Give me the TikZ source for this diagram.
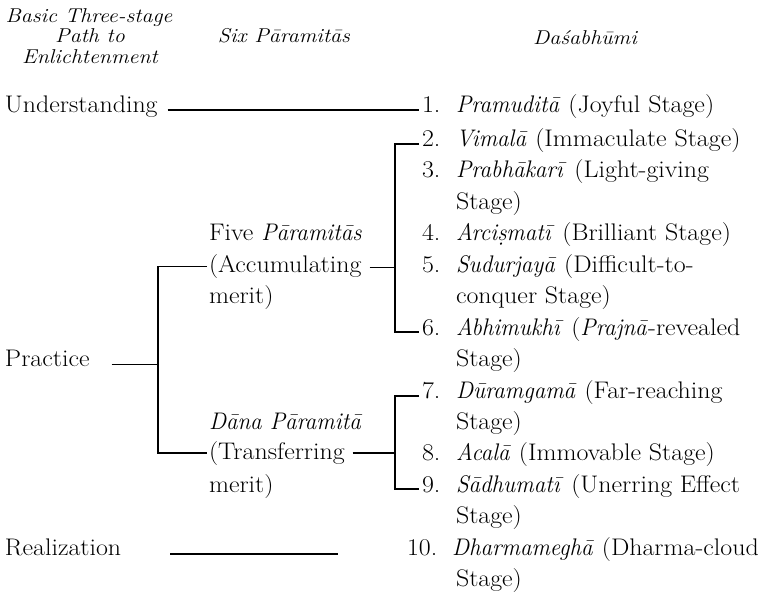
\documentclass[tikz,border=0pt]{standalone}
\usepackage{fontspec}
\setmainfont{Latin Modern Roman}[UprightFeatures={FakeStretch=1.08},ItalicFeatures={FakeStretch=0.96}]
\newfontfamily\hdfont{Latin Modern Roman}[ItalicFeatures={FakeStretch=1.1}]
\usetikzlibrary{calc}
\begin{document}
\begin{tikzpicture}[x=1pt,y=-1pt,
  every node/.style={inner sep=0pt, outer sep=0pt, anchor=base west, font=\fontsize{24}{29}\selectfont},
  hd/.style={anchor=base, font=\hdfont\itshape\fontsize{20}{20}\selectfont},
  conn/.style={line width=1.4pt}]
\useasboundingbox (0,0) rectangle (767,599);
% headers
\node[hd] (h1) at (89,22.5) {Basic Three-stage};
\node[hd] (h2) at (90,42.7) {Path to};
\node[hd] (h3) at (90,63.3) {Enlichtenment};
\node[hd] (h4) at (284,42.7) {Six Pāramitās};
\node[hd] (h5) at (585,45) {Daśabhūmi};
% left column
\node (U) at (5,112.5) {Understanding};
\node (P) at (5,366.6) {Practice};
\node (R) at (5,555.3) {Realization};
% middle column
\node (five) at (209,240.8) {Five \textit{Pāramitās}};
\node (acc) at (209,272.3) {(Accumulating};
\node (accm) at (209,303.7) {merit)};
\node (dana) at (209,429.5) {\textit{Dāna Pāramitā}};
\node (tr) at (209,459) {(Transferring};
\node (trm) at (209,492.4) {merit)};
% right column
\node (n1) at (422,112.5) {1.};
\node (t1) at (456,112.5) {\textit{Pramuditā} (Joyful Stage)};
\node (n2) at (422,146.5) {2.};
\node (t2) at (456,146.5) {\textit{Vimalā} (Immaculate Stage)};
\node (n3) at (422,177.9) {3.};
\node (t3) at (456,177.9) {\textit{Prabhākarī} (Light-giving};
\node (t3b) at (456,209.4) {Stage)};
\node (n4) at (422,240.8) {4.};
\node (t4) at (456,240.8) {\textit{Arciṣmatī} (Brilliant Stage)};
\node (n5) at (422,272.3) {5.};
\node (t5) at (456,272.3) {\textit{Sudurjayā} (Difficult-to-};
\node (t5b) at (456,303.7) {conquer Stage)};
\node (n6) at (422,335.1) {6.};
\node (t6) at (456,335.1) {\textit{Abhimukhī} (\textit{Prajnā}-revealed};
\node (t6b) at (456,366.6) {Stage)};
\node (n7) at (422,398.0) {7.};
\node (t7) at (456,398.0) {\textit{Dūramgamā} (Far-reaching};
\node (t7b) at (456,429.5) {Stage)};
\node (n8) at (422,460.9) {8.};
\node (t8) at (456,460.9) {\textit{Acalā} (Immovable Stage)};
\node (n9) at (422,492.4) {9.};
\node (t9) at (456,492.4) {\textit{Sādhumatī} (Unerring Effect};
\node (t9b) at (456,523.8) {Stage)};
\node (n10) at (407,555.3) {10.};
\node (t10) at (452,555.3) {\textit{Dharmameghā} (Dharma-cloud};
\node (t10b) at (456,586.7) {Stage)};
% connectors
\draw[conn] ($(U.base east)+(10,-2.5)$) -- ($(n1.base west)+(-3,-2.5)$);
% bracket A
\draw[conn] ($(n2.base west)+(-3,-2.5)$) -- ++(-24,0) coordinate (sa) |- ($(n6.base west)+(-3,-3)$);
\coordinate (am) at ($(acc.base east)+(8,-5)$);
\draw[conn] (am) -- (am -| sa);
% practice bracket
\coordinate (spt) at ($(acc.base west)+(-51,-6)$);
\coordinate (spb) at ($(tr.base west)+(-51,-6)$);
\draw[conn] ($(acc.base west)+(-2,-6)$) -- (spt) -- (spb) -- ($(tr.base west)+(-2,-6)$);
\coordinate (pl) at ($(P.base east)+(22,-2)$);
\draw[conn] (pl) -- (pl -| spt);
% bracket B
\draw[conn] ($(n7.base west)+(-3,-2)$) -- ++(-24,0) coordinate (sb) |- ($(n9.base west)+(-3,-3.5)$);
\coordinate (bm) at ($(tr.base east)+(8,-6)$);
\draw[conn] (bm) -- (bm -| sb);
% realization
\coordinate (rl) at ($(R.base east)+(49,-1.5)$);
\coordinate (rend) at ($(rl)+(168,0)$);
\draw[conn] (rl) -- (rend);
\end{tikzpicture}
\end{document}
